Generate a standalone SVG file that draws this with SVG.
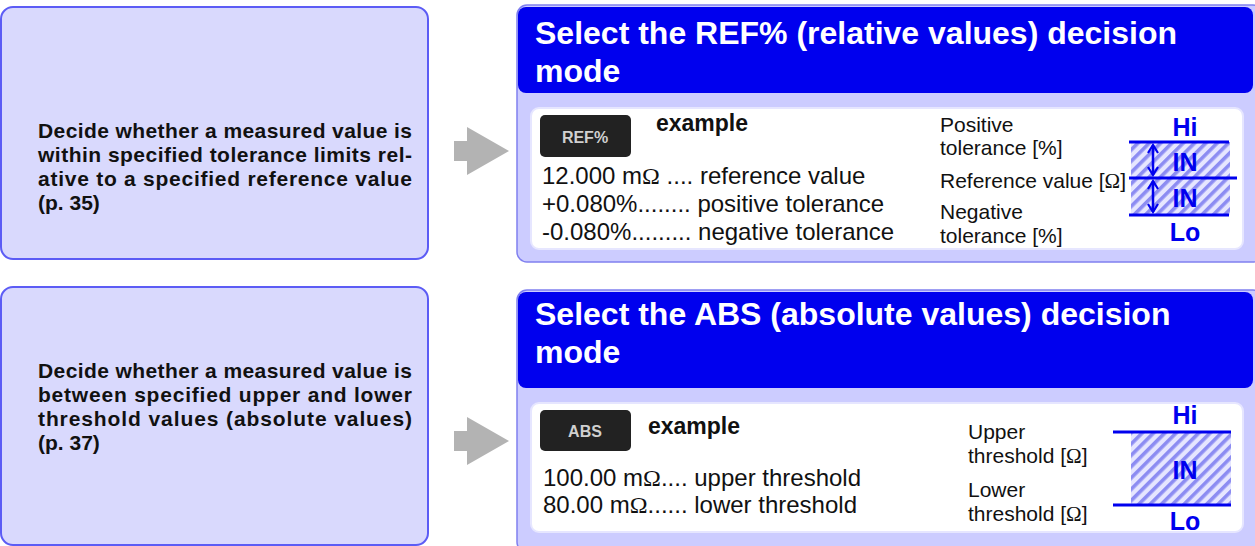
<svg xmlns="http://www.w3.org/2000/svg" width="1255" height="546" viewBox="0 0 1255 546">
<defs>
<style>
.lbox{fill:#d9d9fd;stroke:#5c5cf5;stroke-width:2}
.ltxt{font-family:"Liberation Sans",Arial,sans-serif;font-weight:bold;font-size:21px;fill:#111}
.outer{fill:#ccccff;stroke:#8080f0;stroke-width:1.5}
.hdr{fill:#0000ee}
.htxt{font-family:"Liberation Sans",Arial,sans-serif;font-weight:bold;font-size:32px;fill:#fff}
.inner{fill:#fff;stroke:#e6e6ff;stroke-width:2}
.btn{fill:#222}
.btxt{font-family:"Liberation Sans",Arial,sans-serif;font-weight:bold;font-size:16px;fill:#d0d0d0;text-anchor:middle}
.ex{font-family:"Liberation Sans",Arial,sans-serif;font-weight:bold;font-size:23px;fill:#111}
.val{font-family:"Liberation Sans",Arial,sans-serif;font-size:24px;fill:#111}
.lab{font-family:"Liberation Sans",Arial,sans-serif;font-size:21px;fill:#111}
.om{font-family:"Liberation Serif","Times New Roman",serif}
.blue{font-family:"Liberation Sans",Arial,sans-serif;font-weight:bold;font-size:25px;fill:#0000ee;text-anchor:middle}
.bl{stroke:#0000ee;stroke-width:3;fill:none}
.arr{stroke:#0000ee;stroke-width:2.5;fill:none}
.garrow{fill:#b3b3b3}
</style>
<pattern id="hatch" width="8" height="8" patternUnits="userSpaceOnUse" patternTransform="rotate(45)">
<rect width="8" height="8" fill="#e6e6ff"/>
<rect width="3.6" height="8" fill="#8c8cf2"/>
</pattern>
<marker id="ah" markerWidth="12" markerHeight="12" refX="10" refY="6" orient="auto-start-reverse" markerUnits="userSpaceOnUse">
<path d="M2,1 L10,6 L2,11" fill="none" stroke="#0000ee" stroke-width="2.2"/>
</marker>
</defs>

<g id="desc-ref">
<rect class="lbox" x="1" y="7" width="427" height="252" rx="12"/>
<text class="ltxt"><tspan x="38" y="138" textLength="374" lengthAdjust="spacing">Decide whether a measured value is</tspan><tspan x="38" y="162" textLength="374" lengthAdjust="spacing">within specified tolerance limits rel-</tspan><tspan x="38" y="186" textLength="374" lengthAdjust="spacing">ative to a specified reference value</tspan><tspan x="38" y="210">(p. 35)</tspan></text>
</g>

<g id="desc-abs">
<rect class="lbox" x="1" y="287" width="427" height="258" rx="12"/>
<text class="ltxt"><tspan x="38" y="378" textLength="374" lengthAdjust="spacing">Decide whether a measured value is</tspan><tspan x="38" y="402" textLength="374" lengthAdjust="spacing">between specified upper and lower</tspan><tspan x="38" y="426" textLength="374" lengthAdjust="spacing">threshold values (absolute values)</tspan><tspan x="38" y="450">(p. 37)</tspan></text>
</g>

<g id="connectors">
<polygon class="garrow" points="454,141 467,141 467,127 509,151 467,175 467,161 454,161"/>
<polygon class="garrow" points="454,431 467,431 467,417 509,441 467,465 467,451 454,451"/>
</g>

<g id="panel-ref">
<rect class="outer" x="517" y="5" width="746" height="257" rx="10"/>
<rect class="hdr" x="518" y="7" width="735" height="86" rx="8"/>
<text class="htxt"><tspan x="535" y="44">Select the REF% (relative values) decision</tspan><tspan x="535" y="82">mode</tspan></text>
<rect class="inner" x="531" y="108" width="712" height="141" rx="8"/>
<rect class="btn" x="540" y="115" width="91" height="42" rx="5"/>
<text class="btxt" x="585" y="143">REF%</text>
<text class="ex" x="656" y="131">example</text>
<text class="val"><tspan x="542" y="184">12.000 m<tspan class="om">Ω</tspan> .... reference value</tspan><tspan x="542" y="212">+0.080%........ positive tolerance</tspan><tspan x="542" y="240">-0.080%......... negative tolerance</tspan></text>
<text class="lab"><tspan x="940" y="132">Positive</tspan><tspan x="940" y="155">tolerance [%]</tspan><tspan x="940" y="188">Reference value [<tspan class="om">Ω</tspan>]</tspan><tspan x="940" y="219">Negative</tspan><tspan x="940" y="243">tolerance [%]</tspan></text>
<rect x="1131" y="142" width="99" height="73" fill="url(#hatch)"/>
<line class="bl" x1="1129" y1="142" x2="1229" y2="142"/>
<line class="bl" x1="1129" y1="178" x2="1237" y2="178"/>
<line class="bl" x1="1129" y1="215" x2="1229" y2="215"/>
<line class="arr" x1="1153" y1="145" x2="1153" y2="175" marker-start="url(#ah)" marker-end="url(#ah)"/>
<line class="arr" x1="1153" y1="181" x2="1153" y2="212" marker-start="url(#ah)" marker-end="url(#ah)"/>
<text class="blue" x="1185" y="136">Hi</text>
<text class="blue" x="1185" y="171">IN</text>
<text class="blue" x="1185" y="207">IN</text>
<text class="blue" x="1185" y="241">Lo</text>
</g>

<g id="panel-abs">
<rect class="outer" x="517" y="290" width="746" height="262" rx="10"/>
<rect class="hdr" x="518" y="292" width="735" height="96" rx="8"/>
<text class="htxt"><tspan x="535" y="325">Select the ABS (absolute values) decision</tspan><tspan x="535" y="363">mode</tspan></text>
<rect class="inner" x="531" y="403" width="712" height="129" rx="8"/>
<rect class="btn" x="540" y="410" width="91" height="41" rx="5"/>
<text class="btxt" x="585" y="437">ABS</text>
<text class="ex" x="648" y="434">example</text>
<text class="val"><tspan x="543" y="486">100.00 m<tspan class="om">Ω</tspan>.... upper threshold</tspan><tspan x="543" y="513">80.00 m<tspan class="om">Ω</tspan>...... lower threshold</tspan></text>
<text class="lab"><tspan x="968" y="439">Upper</tspan><tspan x="968" y="463">threshold [<tspan class="om">Ω</tspan>]</tspan><tspan x="968" y="497">Lower</tspan><tspan x="968" y="521">threshold [<tspan class="om">Ω</tspan>]</tspan></text>
<rect x="1131" y="432" width="100" height="73" fill="url(#hatch)"/>
<line class="bl" x1="1113" y1="432" x2="1231" y2="432"/>
<line class="bl" x1="1113" y1="505" x2="1231" y2="505"/>
<text class="blue" x="1185" y="424">Hi</text>
<text class="blue" x="1185" y="479">IN</text>
<text class="blue" x="1185" y="530">Lo</text>
</g>
</svg>
